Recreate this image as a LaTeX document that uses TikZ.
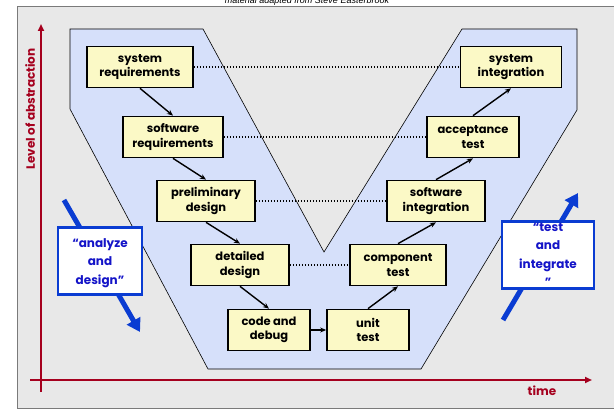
\documentclass[tikz,border=0pt]{standalone}
\usepackage{fontspec}
\usetikzlibrary{arrows.meta}
\newfontfamily\handfont{Poppins}
\newfontfamily\capfont{Liberation Sans}

\definecolor{framegray}{HTML}{E8E8E8}
\definecolor{framerule}{HTML}{7A7A7A}
\definecolor{vblue}{HTML}{D6E0FA}
\definecolor{boxyellow}{HTML}{FBF9C6}
\definecolor{axisred}{HTML}{A5001E}
\definecolor{arrowblue}{HTML}{0A3CD2}
\definecolor{textblue}{HTML}{1414C8}

\tikzset{
  stagebox/.style={draw=black, line width=1.7pt, fill=boxyellow,
    minimum width=#1, minimum height=41pt, inner sep=0pt, align=center,
    font=\handfont\bfseries\fontsize{11.5}{14.5}\selectfont},
  flow/.style={-{Stealth[length=6pt,width=5pt]}, line width=1.4pt, black},
  trace/.style={line width=1.5pt, dash pattern=on 1.5pt off 1.5pt, black},
  bigarrow/.style={-{Triangle[length=13pt,width=15pt]}, line width=5pt, arrowblue},
  labelbox/.style={draw=arrowblue, line width=2.2pt, fill=white, inner sep=0pt},
  labeltext/.style={text=textblue, align=center,
    font=\handfont\bfseries\fontsize{12}{18.5}\selectfont},
  axis/.style={-{Triangle[length=7pt,width=6pt]}, line width=2pt, axisred},
  axislabel/.style={text=axisred, font=\handfont\bfseries\fontsize{12}{13}\selectfont}
}

\begin{document}
\begin{tikzpicture}[x=1pt,y=-1pt]
\useasboundingbox (0,0) rectangle (614,409);

% outer panel
\fill[white] (0,0) rectangle (614,409);
\draw[framerule, fill=framegray, line width=0.8pt] (17,6) rectangle (630,408);
\node[font=\capfont\itshape\fontsize{9}{10}\selectfont, anchor=base] (credit) at (307,4) {material adapted from Steve Easterbrook};

% the V-shaped band
\draw[fill=vblue, line width=0.6pt] (70,29) -- (203,29) -- (324,252) -- (462,29) -- (577,29)
  -- (577,110) -- (421,369) -- (208,369) -- (70,109) -- cycle;

% axes
\coordinate (yfoot) at (41,392);
\coordinate (ytip) at (41,24);
\coordinate (xfoot) at (30,380);
\coordinate (xtip) at (592,380);
\draw[axis] (yfoot) -- (ytip);
\draw[axis] (xfoot) -- (xtip);
\node[axislabel, rotate=90] (abstr) at (30,109) {Level of abstraction};
\node[axislabel] (time) at (542,391) {time};

% development stages (left arm)
\node[stagebox=106pt] (sysreq) at (140,67) {system\\requirements};
\node[stagebox=100pt] (swreq) at (173,137) {software\\requirements};
\node[stagebox=98pt] (prelim) at (206,201) {preliminary\\design};
\node[stagebox=98pt] (detail) at (240,265) {detailed\\design};
\node[stagebox=82pt] (code) at (269,330) {code and\\debug};

% verification stages (right arm)
\node[stagebox=82pt] (unit) at (368,330) {unit\\test};
\node[stagebox=96pt] (comp) at (398,265) {component\\test};
\node[stagebox=98pt] (swint) at (436,201) {software\\integration};
\node[stagebox=92pt] (accept) at (473,137) {acceptance\\test};
\node[stagebox=101pt] (sysint) at (511,67) {system\\integration};

% flow along the V
\draw[flow] (sysreq.south) -- (swreq.north);
\draw[flow] (swreq.south) -- (prelim.north);
\draw[flow] (prelim.south) -- (detail.north);
\draw[flow] (detail.south) -- (code.north);
\draw[flow] (code.east) -- (unit.west);
\draw[flow] (unit.north) -- (comp.south);
\draw[flow] (comp.north) -- (swint.south);
\draw[flow] (swint.north) -- (accept.south);
\draw[flow] (accept.north) -- (sysint.south);

% correspondences across the V
\draw[trace] (sysreq.east) -- (sysint.west);
\draw[trace] (swreq.east) -- (accept.west);
\draw[trace] (prelim.east) -- (swint.west);
\draw[trace] (detail.east) -- (comp.west);

% direction arrows with their labels
\coordinate (downstart) at (64,200);
\coordinate (downend) at (140,332);
\coordinate (upstart) at (503,320);
\coordinate (upend) at (578,193);
\draw[bigarrow] (downstart) -- (downend);
\draw[bigarrow] (upstart) -- (upend);
\node[labelbox, minimum width=84pt, minimum height=67pt] (downbox) at (100,261) {};
\node[labeltext] (downtext) at (100,263) {“analyze\\and\\design”};
\node[labelbox, minimum width=92pt, minimum height=67pt] (upbox) at (548,255) {};
\node[labeltext] (uptext) at (548,255) {“test\\and\\integrate\\”};
\end{tikzpicture}
\end{document}
